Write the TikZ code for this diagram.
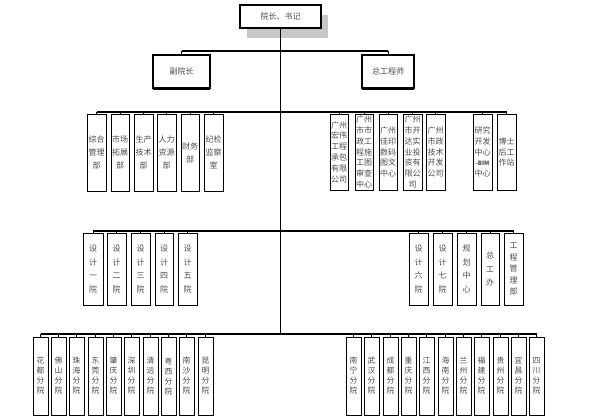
\documentclass[tikz,border=0pt]{standalone}
\usepackage{fontspec}
\setmainfont{Noto Sans CJK SC}
\usetikzlibrary{shadows}
\newcommand\bx[7][]{%
  \node[unit,#1,minimum width={#4-#2},minimum height={#5-#3}] (#7) at ({(#2+#4)/2},{(#3+#5)/2}) {#6};}
\begin{document}
\begin{tikzpicture}[x=1pt,y=-1pt,
  unit/.style={draw=black, line width=0.6pt, fill=white, inner sep=0pt, align=center,
    font=\fontsize{8}{10.8}\selectfont, text=black!70,
    drop shadow={shadow xshift=1.3pt, shadow yshift=-1.3pt, fill=black, opacity=1}},
  headbox/.style={draw=black, line width=1.5pt, fill=white, inner sep=0pt, align=center,
    font=\fontsize{8}{9}\selectfont, text=black!70,
    drop shadow={shadow xshift=7pt, shadow yshift=-10pt, fill=black!22, opacity=1}},
  subbox/.style={draw=black, line width=1.3pt, fill=white, inner sep=0pt, align=center,
    font=\fontsize{8}{9}\selectfont, text=black!70,
    drop shadow={shadow xshift=0pt, shadow yshift=-2pt, fill=black, opacity=1}},
  conn/.style={draw=black, line width=1.3pt},
  stub/.style={draw=black, line width=0.6pt},
  tall/.style={font=\fontsize{8}{13.5}\selectfont},
  mid/.style={font=\fontsize{8}{11.5}\selectfont},
  low/.style={font=\fontsize{7.8}{10}\selectfont},
  r2l/.style={font=\fontsize{8}{13}\selectfont}]
\useasboundingbox (0,0) rectangle (599,417);
% top
\node[headbox, minimum width=81, minimum height=23] (top) at (280.5,16.5) {院长、书记};
\node[subbox, minimum width=57, minimum height=33] (fu) at (181.5,71.5) {副院长};
\node[subbox, minimum width=52, minimum height=33] (zong) at (388,71.5) {总工程师};
\coordinate (bottom) at (top.south |- 0,334);
\draw[conn] (top.south) -- (bottom);
\coordinate (h1) at (top.south |- 0,51);
\draw[conn] (fu.north |- h1) -- (zong.north |- h1);
\draw[stub] (fu.north |- h1) -- (fu.north);
\draw[stub] (zong.north |- h1) -- (zong.north);
% row 2 left
\bx[r2l]{87}{114}{106}{191}{综合\\管理\\部}{a1}
\bx[r2l]{111}{114}{129}{191}{市场\\拓展\\部}{a2}
\bx[r2l]{134}{114}{153}{191}{生产\\技术\\部}{a3}
\bx[r2l]{157}{114}{176}{191}{人力\\资源\\部}{a4}
\bx[r2l]{181}{114}{199}{191}{财务\\部}{a5}
\bx[r2l]{204}{114}{223}{191}{纪检\\监察\\室}{a6}
% row 2 right
\bx{330}{114}{348}{190}{广州\\宏伟\\工程\\承包\\有限\\公司}{b1}
\bx{355}{114}{373}{190}{广州\\市市\\政工\\程施\\工图\\审查\\中心}{b2}
\bx{379}{114}{397}{190}{广州\\佳印\\数码\\图文\\中心}{b3}
\bx{403}{114}{422}{190}{广州\\市开\\达实\\业投\\资有\\限公\\司}{b4}
\bx{426}{114}{445}{190}{广州\\市政\\技术\\开发\\公司}{b5}
\bx{473}{114}{492}{190}{研究\\开发\\中心\\{\bfseries\fontsize{6}{7}\selectfont -BIM}\\中心}{b6}
\bx{497}{114}{516}{190}{博士\\后工\\作站}{b7}
\coordinate (h2) at (0,112);
\draw[conn] (a1.north |- h2) -- (b7.north |- h2);
\foreach \n in {a1,a2,a3,a4,a5,a6,b1,b2,b3,b4,b5,b6,b7}
  \draw[stub] (\n.north |- h2) -- (\n.north);
% row 3
\bx[tall]{83}{233}{103}{305}{设\\计\\一\\院}{c1}
\bx[tall]{107}{233}{126}{305}{设\\计\\二\\院}{c2}
\bx[tall]{131}{233}{150}{305}{设\\计\\三\\院}{c3}
\bx[tall]{155}{233}{173}{305}{设\\计\\四\\院}{c4}
\bx[tall]{178}{233}{197}{305}{设\\计\\五\\院}{c5}
\bx[tall]{409}{233}{428}{305}{设\\计\\六\\院}{d1}
\bx[tall]{433}{233}{452}{305}{设\\计\\七\\院}{d2}
\bx[tall]{457}{233}{476}{305}{规\\划\\中\\心}{d3}
\bx[tall]{481}{233}{499}{305}{总\\工\\办}{d4}
\bx[mid]{504}{233}{523}{305}{工\\程\\管\\理\\部}{d5}
\coordinate (h3) at (0,231);
\draw[conn] (c1.north |- h3) -- (d5.north |- h3);
\foreach \n in {c1,c2,c3,c4,c5,d1,d2,d3,d4,d5}
  \draw[stub] (\n.north |- h3) -- (\n.north);
% row 4
\bx[low]{33}{337}{48}{415}{花\\都\\分\\院}{e1}
\bx[low]{51}{337}{66}{415}{佛\\山\\分\\院}{e2}
\bx[low]{69}{337}{84}{415}{珠\\海\\分\\院}{e3}
\bx[low]{88}{337}{103}{415}{东\\莞\\分\\院}{e4}
\bx[low]{106}{337}{121}{415}{肇\\庆\\分\\院}{e5}
\bx[low]{124}{337}{139}{415}{深\\圳\\分\\院}{e6}
\bx[low]{143}{337}{158}{415}{清\\远\\分\\院}{e7}
\bx[low]{161}{337}{176}{415}{粤\\西\\分\\院}{e8}
\bx[low]{179}{337}{194}{415}{南\\沙\\分\\院}{e9}
\bx[low]{198}{337}{213}{415}{昆\\明\\分\\院}{e10}
\bx[low]{346}{337}{361}{415}{南\\宁\\分\\院}{f1}
\bx[low]{364}{337}{379}{415}{武\\汉\\分\\院}{f2}
\bx[low]{383}{337}{398}{415}{成\\都\\分\\院}{f3}
\bx[low]{401}{337}{416}{415}{重\\庆\\分\\院}{f4}
\bx[low]{419}{337}{434}{415}{江\\西\\分\\院}{f5}
\bx[low]{438}{337}{453}{415}{海\\南\\分\\院}{f6}
\bx[low]{456}{337}{471}{415}{兰\\州\\分\\院}{f7}
\bx[low]{474}{337}{489}{415}{福\\建\\分\\院}{f8}
\bx[low]{493}{337}{508}{415}{贵\\州\\分\\院}{f9}
\bx[low]{511}{337}{526}{415}{宜\\昌\\分\\院}{f10}
\bx[low]{529}{337}{544}{415}{四\\川\\分\\院}{f11}
\draw[conn] (e1.north |- bottom) -- (f11.north |- bottom);
\foreach \n in {e1,e2,e3,e4,e5,e6,e7,e8,e9,e10,f1,f2,f3,f4,f5,f6,f7,f8,f9,f10,f11}
  \draw[stub] (\n.north |- bottom) -- (\n.north);
\end{tikzpicture}
\end{document}
